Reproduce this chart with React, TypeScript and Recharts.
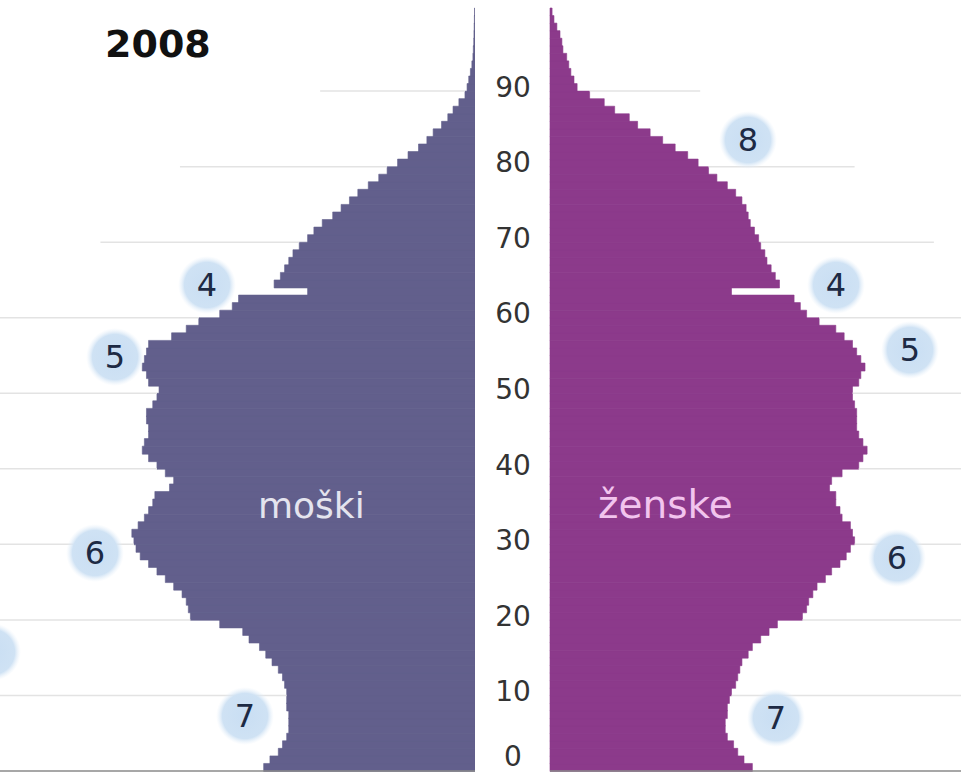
import { Bar, BarChart, ReferenceLine, XAxis, YAxis } from "recharts";

// population by single year of age, thousands (Slovenia, 2008)
const ages = Array.from({ length: 101 }, (_, i) => i);

const male = [
  10.1, 9.8, 9.4, 9.2, 9.0, 8.9, 8.9, 8.9, 9.0, 9.0,
  9.0, 9.1, 9.2, 9.4, 9.7, 10.0, 10.3, 10.8, 11.1, 12.2,
  13.6, 13.7, 13.8, 14.0, 14.4, 14.8, 15.2, 15.6, 16.0, 16.2,
  16.3, 16.4, 16.1, 15.8, 15.6, 15.4, 15.3, 14.6, 14.4, 14.8,
  15.2, 15.6, 15.9, 15.8, 15.6, 15.6, 15.7, 15.7, 15.4, 15.2,
  15.1, 15.6, 15.7, 15.9, 15.8, 15.7, 15.6, 14.5, 13.8, 13.2,
  12.2, 11.6, 11.3, 8.0, 9.6, 9.3, 9.1, 8.9, 8.7, 8.4,
  8.0, 7.7, 7.3, 6.8, 6.4, 6.0, 5.6, 5.1, 4.6, 4.2,
  3.7, 3.2, 2.7, 2.3, 2.0, 1.6, 1.3, 1.05, 0.77, 0.48,
  0.38, 0.3, 0.22, 0.15, 0.1, 0.08, 0.06, 0.05, 0.04, 0.03,
  0.02,
];

const female = [
  9.7, 9.3, 9.0, 8.8, 8.5, 8.4, 8.4, 8.5, 8.5, 8.6,
  8.7, 8.9, 9.0, 9.1, 9.2, 9.5, 9.7, 10.1, 10.5, 10.9,
  12.1, 12.3, 12.4, 12.6, 12.8, 13.2, 13.5, 13.9, 14.2, 14.4,
  14.6, 14.5, 14.4, 14.0, 13.9, 13.7, 13.7, 13.4, 13.5, 14.0,
  14.8, 15.0, 15.2, 15.0, 14.8, 14.7, 14.7, 14.7, 14.6, 14.5,
  14.5, 14.8, 14.9, 15.1, 14.9, 14.7, 14.5, 14.1, 13.7, 12.9,
  12.3, 12.0, 11.7, 8.7, 11.0, 10.8, 10.6, 10.4, 10.3, 10.1,
  10.0, 9.8, 9.6, 9.5, 9.4, 9.2, 8.9, 8.5, 8.0, 7.6,
  7.1, 6.6, 6.0, 5.4, 4.8, 4.2, 3.8, 3.1, 2.6, 1.9,
  1.3, 1.15, 1.0, 0.9, 0.8, 0.62, 0.57, 0.48, 0.33, 0.19,
  0.1,
];

const ageTicks = [0, 10, 20, 30, 40, 50, 60, 70, 80, 90];

// how far the faint guide lines reach, in thousands from the centre
const gridLeftReach = [0, 22.7, 22.7, 22.7, 22.7, 22.7, 22.7, 17.9, 14.1, 7.4];
const gridRightReach = [0, 19.7, 19.7, 19.7, 19.7, 19.7, 19.7, 18.4, 14.6, 7.2];

const bubbles = [
  { n: "8", x: 748, y: 140 },
  { n: "4", x: 207, y: 285 },
  { n: "4", x: 836, y: 285 },
  { n: "5", x: 115, y: 357 },
  { n: "5", x: 910, y: 350 },
  { n: "6", x: 95, y: 553 },
  { n: "6", x: 897, y: 558 },
  { n: "7", x: 245, y: 716 },
  { n: "7", x: 776, y: 718 },
  { n: "", x: -8, y: 652 },
];

const MALE = "#625f8c";
const FEMALE = "#8c3a8b";
const GRID = "#e3e3e3";
const FONT = "'DejaVu Sans', Verdana, sans-serif";

const maleData = ages.map((age, i) => ({ age, value: male[i] }));
const femaleData = ages.map((age, i) => ({ age, value: female[i] }));

function AgeTick(props: any) {
  const { x, y, payload } = props;
  return (
    <text
      x={x - 37}
      y={Math.min(y, 756)}
      textAnchor="middle"
      dominantBaseline="central"
      fontSize={28}
      fontFamily={FONT}
      fill="#333"
    >
      {payload.value}
    </text>
  );
}

// guide lines sit on the lower edge of each decade's bar
function gridLines(series: number[], reach: number[]) {
  return ageTicks
    .filter((t) => t > 0)
    .map((t) => {
      const edge = Math.max(series[t], series[t - 1]);
      if (reach[t / 10] <= edge) return null;
      return (
        <ReferenceLine
          key={t}
          position="end"
          segment={[
            { x: edge, y: t },
            { x: reach[t / 10], y: t },
          ]}
          stroke={GRID}
          strokeWidth={1.5}
        />
      );
    });
}

export default function App() {
  return (
    <div
      style={{
        position: "absolute",
        left: 0,
        top: 0,
        width: 961,
        height: 772,
        overflow: "hidden",
        background: "#fff",
        fontFamily: FONT,
      }}
    >
      <div style={{ position: "absolute", left: 0, top: 0 }}>
        <BarChart
          width={475}
          height={772}
          layout="vertical"
          data={maleData}
          barCategoryGap={0}
          margin={{ top: 8, right: 0, bottom: 0, left: 0 }}
        >
          <XAxis
            type="number"
            domain={[0, 22.7]}
            reversed
            height={1}
            tick={false}
            tickLine={false}
            axisLine={{ stroke: "#8a8a8a", strokeWidth: 1.5 }}
          />
          <YAxis type="category" dataKey="age" reversed hide />
          {gridLines(male, gridLeftReach)}
          <Bar
            dataKey="value"
            fill={MALE}
            stroke={MALE}
            strokeWidth={0.6}
            isAnimationActive={false}
          />
        </BarChart>
      </div>

      <div style={{ position: "absolute", left: 475, top: 0 }}>
        <BarChart
          width={486}
          height={772}
          layout="vertical"
          data={femaleData}
          barCategoryGap={0}
          margin={{ top: 8, right: 0, bottom: 0, left: 0 }}
        >
          <XAxis
            type="number"
            domain={[0, 19.7]}
            height={1}
            tick={false}
            tickLine={false}
            axisLine={{ stroke: "#8a8a8a", strokeWidth: 1.5 }}
          />
          <YAxis
            type="category"
            dataKey="age"
            reversed
            width={75}
            ticks={ageTicks}
            interval={0}
            tickSize={0}
            tickMargin={0}
            axisLine={false}
            tickLine={false}
            tick={<AgeTick />}
          />
          {gridLines(female, gridRightReach)}
          <Bar
            dataKey="value"
            fill={FEMALE}
            stroke={FEMALE}
            strokeWidth={0.6}
            isAnimationActive={false}
          />
        </BarChart>
      </div>

      <svg
        width={961}
        height={772}
        style={{ position: "absolute", left: 0, top: 0, pointerEvents: "none" }}
      >
        <defs>
          <radialGradient id="bubble">
            <stop offset="0%" stopColor="#c9def3" />
            <stop offset="78%" stopColor="#cfe2f4" />
            <stop offset="100%" stopColor="#e8f1fa" stopOpacity={0} />
          </radialGradient>
        </defs>
        <text x={105} y={57} fontSize={38} fontWeight="bold" fontFamily={FONT} fill="#111">
          2008
        </text>
        <text x={258} y={518} fontSize={36} fontFamily={FONT} fill="#e4e4ee">
          moški
        </text>
        <text x={598} y={518} fontSize={39} fontFamily={FONT} fill="#f2c4ee">
          ženske
        </text>
        {bubbles.map((b, i) => (
          <g key={i}>
            <circle cx={b.x} cy={b.y} r={29} fill="url(#bubble)" />
            <text
              x={b.x}
              y={b.y}
              textAnchor="middle"
              dominantBaseline="central"
              fontSize={32}
              fontFamily={FONT}
              fill="#1d2a44"
            >
              {b.n}
            </text>
          </g>
        ))}
      </svg>
    </div>
  );
}
